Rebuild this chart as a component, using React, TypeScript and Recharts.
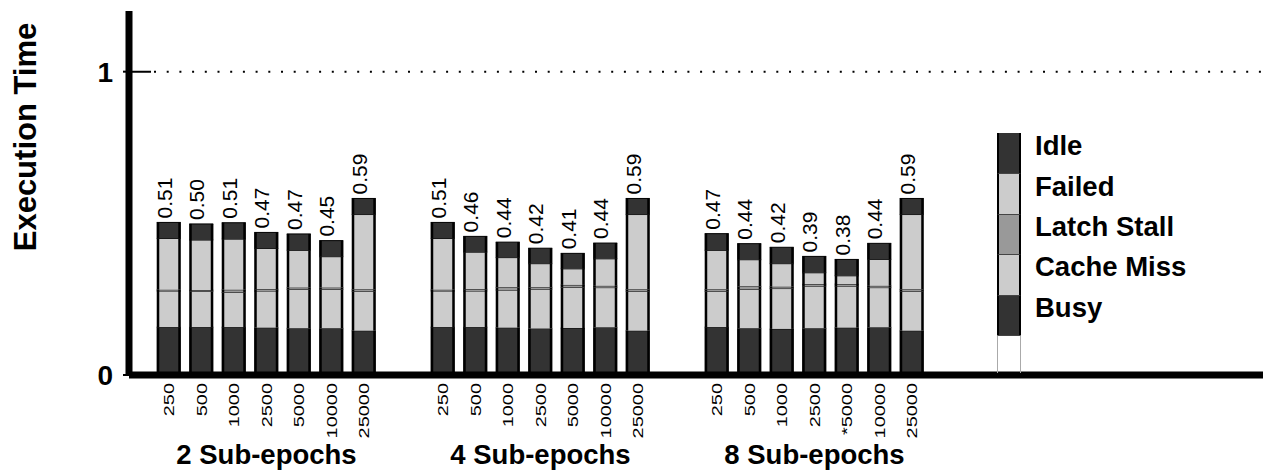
import React from 'react';
import { BarChart, Bar, XAxis, YAxis, ReferenceLine, LabelList } from 'recharts';

const groups = ['2 Sub-epochs', '4 Sub-epochs', '8 Sub-epochs'];
const sizes = [
  ['250', '500', '1000', '2500', '5000', '10000', '25000'],
  ['250', '500', '1000', '2500', '5000', '10000', '25000'],
  ['250', '500', '1000', '2500', '*5000', '10000', '25000'],
];
const totals = [
  ['0.51', '0.50', '0.51', '0.47', '0.47', '0.45', '0.59'],
  ['0.51', '0.46', '0.44', '0.42', '0.41', '0.44', '0.59'],
  ['0.47', '0.44', '0.42', '0.39', '0.38', '0.44', '0.59'],
];
const busy = [
  [0.158, 0.158, 0.158, 0.156, 0.154, 0.154, 0.146],
  [0.158, 0.158, 0.156, 0.153, 0.155, 0.157, 0.146],
  [0.158, 0.154, 0.152, 0.154, 0.156, 0.157, 0.146],
];
const cacheMiss = [
  [0.119, 0.118, 0.114, 0.121, 0.128, 0.128, 0.130],
  [0.119, 0.119, 0.124, 0.130, 0.134, 0.131, 0.130],
  [0.118, 0.128, 0.133, 0.139, 0.137, 0.131, 0.130],
];
const latchStall = [
  [0.004, 0.004, 0.009, 0.006, 0.006, 0.006, 0.006],
  [0.004, 0.006, 0.009, 0.006, 0.008, 0.006, 0.006],
  [0.006, 0.010, 0.006, 0.007, 0.007, 0.006, 0.006],
];
const failed = [
  [0.169, 0.165, 0.167, 0.134, 0.123, 0.102, 0.247],
  [0.169, 0.122, 0.098, 0.078, 0.053, 0.089, 0.247],
  [0.129, 0.088, 0.076, 0.037, 0.027, 0.087, 0.247],
];
const idle = [
  [0.053, 0.053, 0.054, 0.053, 0.054, 0.053, 0.053],
  [0.053, 0.052, 0.051, 0.051, 0.051, 0.052, 0.053],
  [0.055, 0.053, 0.054, 0.054, 0.054, 0.053, 0.053],
];

const FONT = '"Liberation Sans", Arial, Helvetica, sans-serif';
const DARK = '#333333';
const LIGHT = '#cccccc';
const MID = '#999999';

// gap between groups, in bar slots
const GROUP_STEP = 8.43;
const X_MIN = -1.231;
const X_MAX = 33.66;

// short dash next to the axis, then dots
const REF_DASH = '22 3 ' + Array(100).fill('2 10.7').join(' ');

const data = groups.flatMap((g, gi) =>
  sizes[gi].map((s, i) => ({
    pos: gi * GROUP_STEP + i,
    group: g,
    size: s,
    mid: i === 3,
    busy: busy[gi][i],
    cacheMiss: cacheMiss[gi][i],
    latchStall: latchStall[gi][i],
    failed: failed[gi][i],
    idle: idle[gi][i],
    total: totals[gi][i],
  }))
);

const legendItems = [
  { name: 'Idle', color: DARK },
  { name: 'Failed', color: LIGHT },
  { name: 'Latch Stall', color: MID },
  { name: 'Cache Miss', color: LIGHT },
  { name: 'Busy', color: DARK },
];

const Segment = (props: any) => {
  const { x, y, width, height, fill } = props;
  if (!height || height <= 0) return null;
  return (
    <g>
      <rect x={x} y={y} width={width} height={height} fill={fill} />
      <line x1={x} x2={x + width} y1={y} y2={y} stroke="#000" strokeWidth={1} />
      <line x1={x + 1.25} x2={x + 1.25} y1={y} y2={y + height} stroke="#000" strokeWidth={2.5} />
      <line x1={x + width - 1.25} x2={x + width - 1.25} y1={y} y2={y + height} stroke="#000" strokeWidth={2.5} />
    </g>
  );
};

const TotalLabel = (props: any) => {
  const { x, y, width, value } = props;
  const cx = x + width / 2 - 4.5;
  const ty = y - 4;
  return (
    <text
      transform={`translate(${cx},${ty}) rotate(-90)`}
      textAnchor="start"
      dy="0.35em"
      fontSize={21}
      fontFamily={FONT}
      fill="#000"
    >
      {value}
    </text>
  );
};

const SizeTick = (props: any) => {
  const { x, y, payload } = props;
  const d = data.find((p) => Math.abs(p.pos - payload.value) < 1e-6);
  if (!d) return null;
  return (
    <g>
      <text
        transform={`translate(${x},${y + 8}) rotate(-90) scale(1.33,1)`}
        textAnchor="end"
        dy="0.35em"
        fontSize={15}
        fontFamily={FONT}
        fill="#000"
      >
        {d.size}
      </text>
      {d.mid && (
        <text x={x} y={y + 79} textAnchor="middle" dominantBaseline="central" fontSize={27.5} fontWeight="bold" fontFamily={FONT} fill="#000">
          {d.group}
        </text>
      )}
    </g>
  );
};

const YLabel = () => (
  <text
    transform="translate(25,137) rotate(-90)"
    textAnchor="middle"
    dominantBaseline="central"
    fontSize={31}
    fontWeight="bold"
    fontFamily={FONT}
    fill="#000"
  >
    Execution Time
  </text>
);

export default function App() {
  return (
    <div style={{ position: 'relative', width: 1263, height: 471, fontFamily: FONT, background: '#fff' }}>
      <style>{'body{margin:0}'}</style>
      <BarChart
        width={1263}
        height={471}
        data={data}
        barSize={24}
        margin={{ top: 11, right: 0, left: 0, bottom: 0 }}
      >
        <XAxis
          type="number"
          dataKey="pos"
          domain={[X_MIN, X_MAX]}
          ticks={data.map((d) => d.pos)}
          interval={0}
          height={96}
          tickSize={0}
          tickMargin={0}
          tickLine={false}
          axisLine={{ stroke: '#000', strokeWidth: 7 }}
          tick={<SizeTick />}
        />
        <YAxis
          width={129}
          domain={[0, 1.2]}
          ticks={[0, 1]}
          tickSize={6}
          tickMargin={10}
          axisLine={{ stroke: '#000', strokeWidth: 7 }}
          tickLine={{ stroke: '#000', strokeWidth: 2 }}
          tick={{ fontSize: 28, fontWeight: 'bold', fill: '#000', fontFamily: FONT }}
          label={YLabel}
        />
        <ReferenceLine y={1} stroke="#000" strokeWidth={2} strokeDasharray={REF_DASH} />
        <Bar dataKey="busy" stackId="t" fill={DARK} shape={<Segment />} isAnimationActive={false} />
        <Bar dataKey="cacheMiss" stackId="t" fill={LIGHT} shape={<Segment />} isAnimationActive={false} />
        <Bar dataKey="latchStall" stackId="t" fill={MID} shape={<Segment />} isAnimationActive={false} />
        <Bar dataKey="failed" stackId="t" fill={LIGHT} shape={<Segment />} isAnimationActive={false} />
        <Bar dataKey="idle" stackId="t" fill={DARK} shape={<Segment />} isAnimationActive={false}>
          <LabelList dataKey="total" content={<TotalLabel />} />
        </Bar>
      </BarChart>
      <div style={{ position: 'absolute', left: 997, top: 133 }}>
        {legendItems.map((it, i) => (
          <div
            key={it.name}
            style={{
              position: 'absolute',
              left: 0,
              top: i * 40.4,
              width: 24,
              height: 40.4,
              background: it.color,
              boxSizing: 'border-box',
              borderLeft: '2px solid #000',
              borderRight: '2px solid #000',
              borderTop: i ? '1px solid #444' : 'none',
            }}
          />
        ))}
        <div
          style={{
            position: 'absolute',
            left: 0,
            top: 202,
            width: 24,
            height: 38,
            boxSizing: 'border-box',
            borderLeft: '1px solid #aaa',
            borderRight: '1px solid #aaa',
            borderTop: '1px solid #444',
          }}
        />
        {legendItems.map((it, i) => (
          <div
            key={it.name + '-t'}
            style={{
              position: 'absolute',
              left: 38,
              top: 12.5 + i * 40.4 - 15.3,
              fontSize: 27.5,
              lineHeight: '31px',
              fontWeight: 'bold',
              whiteSpace: 'nowrap',
              color: '#000',
            }}
          >
            {it.name}
          </div>
        ))}
      </div>
    </div>
  );
}
